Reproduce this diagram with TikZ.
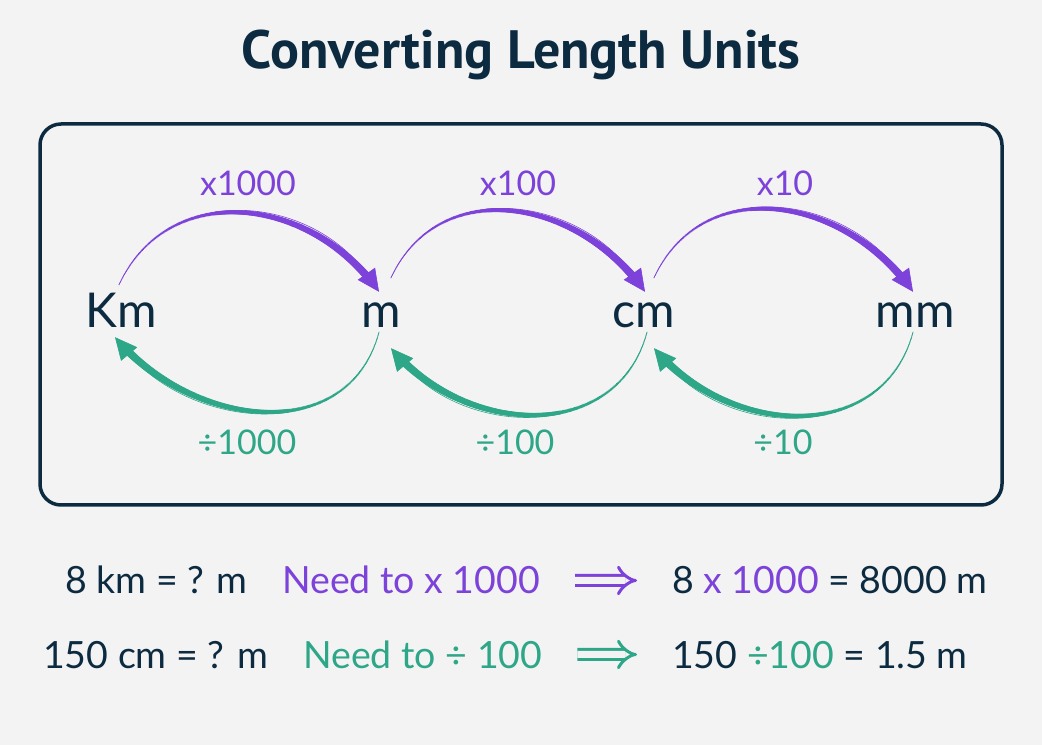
\documentclass[tikz,border=0pt]{standalone}
\usepackage{fontspec}
\setmainfont{Lato}
\newfontfamily\titlefont{PT Sans}
\usetikzlibrary{arrows.meta,decorations.markings}
\definecolor{navy}{RGB}{12,43,64}
\definecolor{violet1}{RGB}{124,66,217}
\definecolor{teal1}{RGB}{46,166,136}
\definecolor{paper}{RGB}{243,243,243}
\tikzset{
  unitnode/.style={inner sep=0pt, text height=36pt, text depth=4pt, anchor=base, text=navy, font=\fontsize{48}{50}\selectfont},
  convlabel/.style={inner sep=0pt, font=\fontsize{34}{36}\selectfont},
  rowtext/.style={inner sep=0pt, anchor=base west, text=navy, font=\fontsize{37.5}{40}\selectfont},
  taper/.style={postaction={decorate, decoration={markings,
    mark=between positions 0 and 0.94 step 0.004 with {\fill (0,0) circle[radius=0.5pt+0.0149pt*\pgfkeysvalueof{/pgf/decoration/mark info/sequence number}];}}}},
  convarc/.style={taper, line width=0.6pt, -{Triangle[length=22pt,width=21pt]}, looseness=1.15},
  dblarrow/.style={double=paper, double distance=7pt, line width=3pt, -{Implies}, shorten <=35pt, shorten >=35pt}
}
\begin{document}
\begin{tikzpicture}[x=1pt,y=1pt]
\fill[paper] (0,0) rectangle (1042,745);
\useasboundingbox (0,0) rectangle (1042,745);
\node[text=navy, font=\titlefont\bfseries\fontsize{54}{58}\selectfont, anchor=base] (title) at (521,676) {Converting Length Units};
\draw[navy, line width=3.5pt, rounded corners=21pt] (40,240) rectangle (1002,621);
\node[unitnode] (km) at (121,417) {Km};
\node[unitnode] (m) at (381,417) {m};
\node[unitnode] (cm) at (644,417) {cm};
\node[unitnode] (mm) at (915,417) {mm};
\draw[convarc, violet1] ([shift={(-2pt,7pt)}]km.north) to[out=65,in=125] ([xshift=-2pt]m.north);
\draw[convarc, violet1] ([shift={(10pt,14pt)}]m.north) to[out=65,in=125] ([xshift=1pt]cm.north);
\draw[convarc, violet1] ([shift={(10pt,14pt)}]cm.north) to[out=65,in=125] ([xshift=-2pt]mm.north);
\draw[convarc, teal1] ([xshift=-2pt]m.south) to[out=-105,in=-50] ([shift={(-6pt,-5pt)}]km.south);
\draw[convarc, teal1] ([xshift=3pt]cm.south) to[out=-105,in=-50] ([shift={(10pt,-16pt)}]m.south);
\draw[convarc, teal1] ([xshift=-2pt]mm.south) to[out=-105,in=-50] ([shift={(10pt,-16pt)}]cm.south);
\node[convlabel, text=violet1] (up1) at (248,562) {x1000};
\node[convlabel, text=violet1] (up2) at (518,562) {x100};
\node[convlabel, text=violet1] (up3) at (785,562) {x10};
\node[convlabel, text=teal1] (dn1) at (247,303) {÷1000};
\node[convlabel, text=teal1] (dn2) at (515,303) {÷100};
\node[convlabel, text=teal1] (dn3) at (783,303) {÷10};
\node[rowtext] (ask1) at (65,151) {8 km = ? m};
\node[rowtext, text=violet1] (need1) at (282,151) {Need to x 1000};
\node[rowtext] (res1) at (672,151) {8 {\color{violet1}x 1000} = 8000 m};
\node[rowtext] (ask2) at (43,77) {150 cm = ? m};
\node[rowtext, text=teal1] (need2) at (303,77) {Need to ÷ 100};
\node[rowtext] (res2) at (672,77) {150 {\color{teal1}÷100} = 1.5 m};
\draw[dblarrow, violet1] (need1.east) -- (res1.west);
\draw[dblarrow, teal1] (need2.east) -- (res2.west);
\end{tikzpicture}
\end{document}
